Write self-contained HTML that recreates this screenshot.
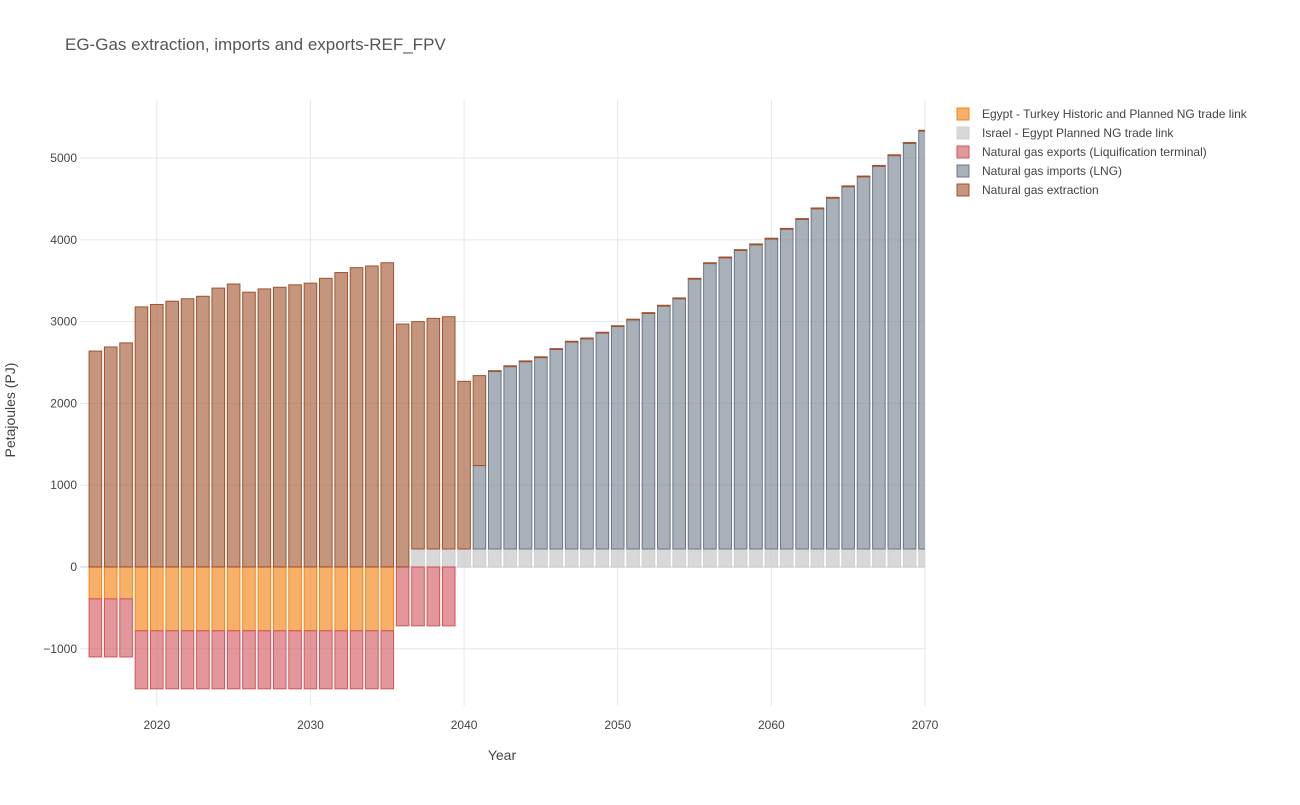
<!DOCTYPE html>
<html><head><meta charset="utf-8"><style>
body{margin:0;background:#fff;font-family:"Liberation Sans",Arial,sans-serif;}
svg text{font-family:"Liberation Sans",Arial,sans-serif;fill:#444;}
</style></head><body>
<svg id="chart" width="1300" height="800">
<text x="65" y="50" font-size="17" style="fill:#555">EG-Gas extraction, imports and exports-REF_FPV</text>
<g id="grid"></g><g id="bars"></g><g id="axes"></g>
<text x="502" y="760" font-size="14" text-anchor="middle">Year</text>
<text transform="translate(15,410) rotate(-90)" font-size="14" text-anchor="middle">Petajoules (PJ)</text>
<g id="legend"></g>
</svg>
<script>
const years=[];for(let y=2016;y<=2070;y++)years.push(y);
const turkey=[-390,-390,-390,-780,-780,-780,-780,-780,-780,-780,-780,-780,-780,-780,-780,-780,-780,-780,-780,-780];
const exportsLng=[-710,-710,-710,-710,-710,-710,-710,-710,-710,-710,-710,-710,-710,-710,-710,-710,-710,-710,-710,-710,-720,-720,-720,-720];
const israel=[0,0,0,0,0,0,0,0,0,0,0,0,0,0,0,0,0,0,0,0,0,220,220,220,220,220,220,220,220,220,220,220,220,220,220,220,220,220,220,220,220,220,220,220,220,220,220,220,220,220,220,220,220,220,220];
const imports=[0,0,0,0,0,0,0,0,0,0,0,0,0,0,0,0,0,0,0,0,0,0,0,0,0,1020,2170,2230,2290,2340,2440,2530,2570,2640,2720,2800,2880,2970,3060,3300,3490,3560,3650,3720,3790,3910,4030,4160,4290,4430,4550,4680,4810,4960,5110];
const extraction=[2640,2690,2740,3180,3210,3250,3280,3310,3410,3460,3360,3400,3420,3450,3470,3530,3600,3660,3680,3720,2970,2780,2820,2840,2050,1100,10,10,10,10,10,10,10,10,10,10,10,10,10,10,10,10,10,10,10,10,10,10,10,10,10,10,10,10,10];
const xTicks=[2020,2030,2040,2050,2060,2070];
const yTicks=[-1000,0,1000,2000,3000,4000,5000];
const L=80,R=925,T=100,B=706,x0=2015,x1=2070,y0=-1700,y1=5710;
const X=v=>L+(v-x0)/(x1-x0)*(R-L);
const Y=v=>B-(v-y0)/(y1-y0)*(B-T);
const NS="http://www.w3.org/2000/svg";
function mk(t,a,p){const e=document.createElementNS(NS,t);for(const k in a)e.setAttribute(k,a[k]);p.appendChild(e);return e;}
const grid=document.getElementById('grid'),bars=document.getElementById('bars'),axes=document.getElementById('axes');
xTicks.forEach(t=>{const l=mk('line',{x1:X(t),x2:X(t),y1:T,y2:B,stroke:'#e3e7f1'},grid);

const tx=mk('text',{x:X(t),y:B+23,'font-size':12,'text-anchor':'middle'},axes);tx.textContent=t;
});
yTicks.forEach(t=>{const l=mk('line',{x1:L,x2:R,y1:Y(t),y2:Y(t),stroke:'#e3e7f1','stroke-width':t===0?2:1},grid);

const tx=mk('text',{x:L-3,y:Y(t)+4,'font-size':12,'text-anchor':'end'},axes);tx.textContent=t<0?'\u2212'+(-t):t;
});
const series=[
 {n:'Egypt - Turkey Historic and Planned NG trade link',d:turkey,f:'rgba(245,133,24,0.65)',s:'#f58518',id:'turkey'},
 {n:'Israel - Egypt Planned NG trade link',d:israel,f:'rgba(200,200,200,0.7)',s:'#cfcfcf',id:'israel'},
 {n:'Natural gas exports (Liquification terminal)',d:exportsLng,f:'rgba(214,96,100,0.65)',s:'#d2535a',id:'exports'},
 {n:'Natural gas imports (LNG)',d:imports,f:'rgba(135,145,160,0.72)',s:'#6d7585',id:'imports'},
 {n:'Natural gas extraction',d:extraction,f:'rgba(175,110,75,0.72)',s:'#a0522d',id:'extraction'}];
const pos=years.map(()=>0),neg=years.map(()=>0);
const bw=(R-L)/(x1-x0)*0.82;
const clip=mk('clipPath',{id:'pc'},document.getElementById('chart'));mk('rect',{x:L,y:T,width:R-L,height:B-T},clip);
bars.setAttribute('clip-path','url(#pc)');
series.forEach(s=>{s.d.forEach((v,i)=>{if(!v)return;let a,b;
 if(v<0){a=neg[i];b=a+v;neg[i]=b;}else{a=pos[i];b=a+v;pos[i]=b;}
 const r=mk('rect',{x:X(years[i])-bw/2,y:Math.min(Y(a),Y(b)),width:bw,height:Math.abs(Y(a)-Y(b)),fill:s.f,stroke:s.s,'stroke-width':1},bars);
 
 });});
const lg=document.getElementById('legend');
series.forEach((s,i)=>{const y=114+i*19;const g=mk('g',{},lg);
 
 
 mk('rect',{x:957,y:y-6,width:12,height:12,fill:s.f,stroke:s.s},g);
 const t=mk('text',{x:982,y:y+4,'font-size':12},g);t.textContent=s.n;});
</script>
</body></html>
